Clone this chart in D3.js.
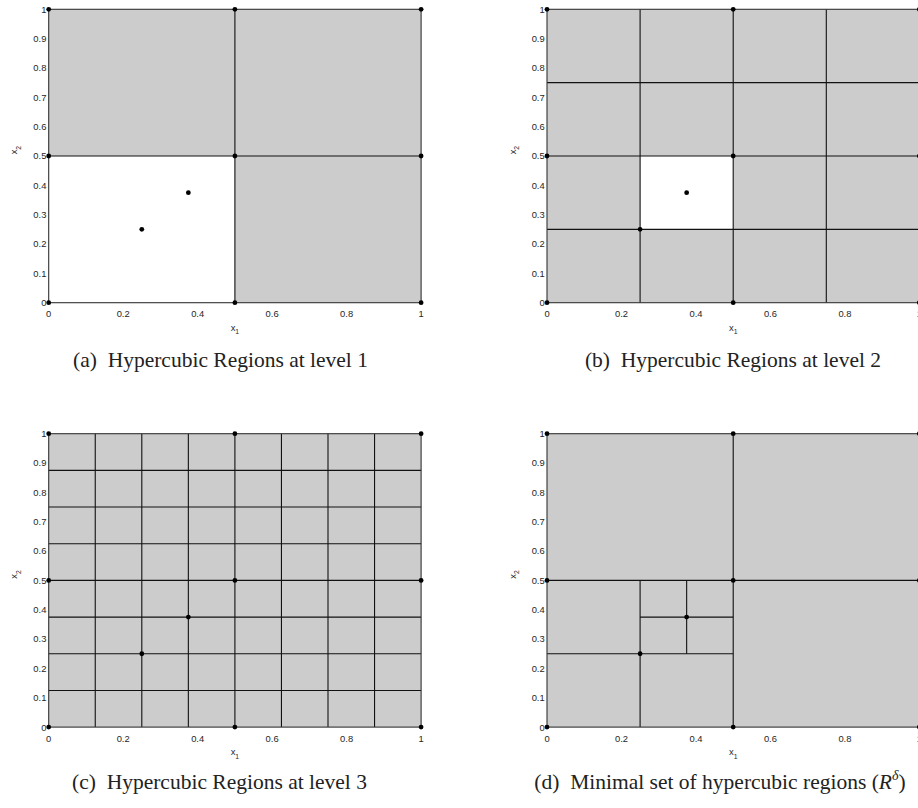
<!DOCTYPE html>
<html>
<head>
<meta charset="utf-8">
<script src="https://cdn.jsdelivr.net/npm/d3@7/dist/d3.min.js"></script>
<style>
  body { margin: 0; background: #fff; }
  svg { display: block; }
</style>
</head>
<body>
<div id="chart"></div>
<script>
// axis ticks
const xTicks = [0, 0.2, 0.4, 0.6, 0.8, 1];
const xTickLabels = ["0", "0.2", "0.4", "0.6", "0.8", "1"];
const yTicks = [0, 0.1, 0.2, 0.3, 0.4, 0.5, 0.6, 0.7, 0.8, 0.9, 1];
const yTickLabels = ["0", "0.1", "0.2", "0.3", "0.4", "0.5", "0.6", "0.7", "0.8", "0.9", "1"];

// full-length split lines for the uniform levels
const splitsA = [0.5];
const splitsB = [0.25, 0.5, 0.75];
const splitsC = [0.125, 0.25, 0.375, 0.5, 0.625, 0.75, 0.875];

// white (empty) cells [x0, x1, y0, y1]
const whiteA = [[0, 0.5, 0, 0.5]];
const whiteB = [[0.25, 0.5, 0.25, 0.5]];
const whiteC = [];
const whiteD = [];

// minimal set: partial segments [x1, y1, x2, y2]
const segmentsD = [
  [0.5, 0, 0.5, 1],
  [0, 0.5, 1, 0.5],
  [0.25, 0, 0.25, 0.5],
  [0, 0.25, 0.5, 0.25],
  [0.375, 0.25, 0.375, 0.5],
  [0.25, 0.375, 0.5, 0.375]
];

// dots
const cornerPoints = [[0, 0], [0.5, 0], [1, 0], [0, 0.5], [0.5, 0.5], [1, 0.5], [0, 1], [0.5, 1], [1, 1]];
const samplePoints = [[0.25, 0.25], [0.375, 0.375]];

const captions = [
  "(a)\u2002Hypercubic Regions at level 1",
  "(b)\u2002Hypercubic Regions at level 2",
  "(c)\u2002Hypercubic Regions at level 3",
  "(d)\u2002Minimal set of hypercubic regions ("
];

function fullSegments(splits) {
  let s = [];
  splits.forEach(v => { s.push([v, 0, v, 1]); s.push([0, v, 1, v]); });
  return s;
}

const W = 918, H = 808;
const svg = d3.select("#chart").append("svg").attr("width", W).attr("height", H);

const panels = [
  { left: 48.7, top: 9.3, white: whiteA, segs: fullSegments(splitsA), cap: captions[0], capX: 220.5, capY: 367 },
  { left: 547, top: 9.3, white: whiteB, segs: fullSegments(splitsB), cap: captions[1], capX: 733, capY: 367 },
  { left: 48.7, top: 433.7, white: whiteC, segs: fullSegments(splitsC), cap: captions[2], capX: 219.5, capY: 789 },
  { left: 547, top: 433.7, white: whiteD, segs: segmentsD, cap: captions[3], capX: 720, capY: 789 }
];
const pw = 372.4, ph = 293.4;
const tickFont = 9.4;

panels.forEach((p, i) => {
  const x = d3.scaleLinear().domain([0, 1]).range([p.left, p.left + pw]);
  const y = d3.scaleLinear().domain([0, 1]).range([p.top + ph, p.top]);
  const g = svg.append("g");

  // gray background
  g.append("rect").attr("x", x(0)).attr("y", y(1))
    .attr("width", x(1) - x(0)).attr("height", y(0) - y(1))
    .attr("fill", "#cccccc");

  g.selectAll("rect.white").data(p.white).enter().append("rect")
    .attr("class", "white")
    .attr("x", d => x(d[0])).attr("y", d => y(d[3]))
    .attr("width", d => x(d[1]) - x(d[0])).attr("height", d => y(d[2]) - y(d[3]))
    .attr("fill", "#ffffff");

  g.selectAll("line.seg").data(p.segs).enter().append("line")
    .attr("class", "seg")
    .attr("x1", d => x(d[0])).attr("y1", d => y(d[1]))
    .attr("x2", d => x(d[2])).attr("y2", d => y(d[3]))
    .attr("stroke", "#111").attr("stroke-width", 1.1);

  // frame
  g.append("rect").attr("x", x(0)).attr("y", y(1))
    .attr("width", x(1) - x(0)).attr("height", y(0) - y(1))
    .attr("fill", "none").attr("stroke", "#333").attr("stroke-width", 1.1);

  g.selectAll("circle").data(cornerPoints.concat(samplePoints)).enter().append("circle")
    .attr("cx", d => x(d[0])).attr("cy", d => y(d[1])).attr("r", 2.4)
    .attr("fill", "#000");

  // tick labels
  g.selectAll("text.xt").data(xTicks).enter().append("text")
    .attr("class", "xt")
    .attr("x", d => x(d)).attr("y", y(0) + 14.6)
    .attr("text-anchor", "middle")
    .attr("font-family", "Liberation Sans, Arial, sans-serif").attr("font-size", tickFont)
    .attr("fill", "#262626")
    .text((d, k) => xTickLabels[k]);

  g.selectAll("text.yt").data(yTicks).enter().append("text")
    .attr("class", "yt")
    .attr("x", x(0) - 2.3).attr("y", d => y(d) + 3.4)
    .attr("text-anchor", "end")
    .attr("font-family", "Liberation Sans, Arial, sans-serif").attr("font-size", tickFont)
    .attr("fill", "#262626")
    .text((d, k) => yTickLabels[k]);

  // axis labels
  const xl = g.append("text")
    .attr("x", x(0.5)).attr("y", y(0) + 28)
    .attr("text-anchor", "middle")
    .attr("font-family", "Liberation Sans, Arial, sans-serif").attr("font-size", tickFont)
    .attr("fill", "#262626");
  xl.append("tspan").text("x");
  xl.append("tspan").attr("dy", 3.5).attr("font-size", 6.8).text("1");

  const yl = g.append("text")
    .attr("transform", "translate(" + (x(0) - 31.5) + "," + y(0.52) + ") rotate(-90)")
    .attr("text-anchor", "middle")
    .attr("font-family", "Liberation Sans, Arial, sans-serif").attr("font-size", tickFont)
    .attr("fill", "#262626");
  yl.append("tspan").text("x");
  yl.append("tspan").attr("dy", 3.5).attr("font-size", 6.8).text("2");

  // caption
  const cap = g.append("text")
    .attr("x", p.capX).attr("y", p.capY)
    .attr("text-anchor", "middle")
    .attr("font-family", "Liberation Serif, Times New Roman, serif").attr("font-size", 21.5)
    .attr("fill", "#222");
  cap.append("tspan").text(p.cap);
  if (i === 3) {
    cap.append("tspan").attr("font-style", "italic").text("R");
    cap.append("tspan").attr("dy", -9).attr("font-size", 14).attr("font-style", "italic").text("\u03b4");
    cap.append("tspan").attr("dy", 9).text(")");
  }
});
</script>
</body>
</html>
